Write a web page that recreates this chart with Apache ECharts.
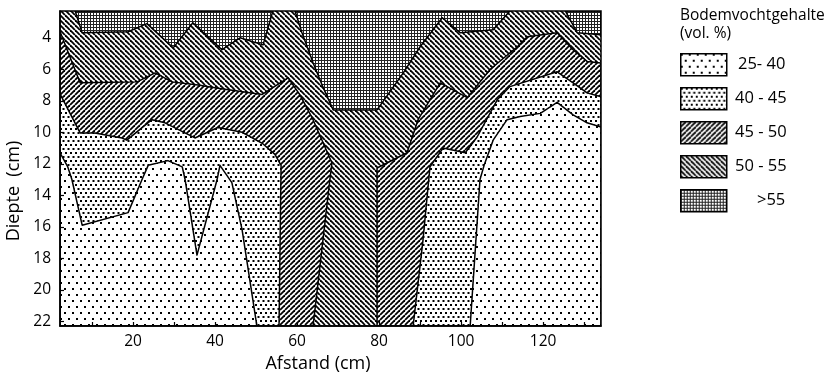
<!DOCTYPE html>
<html><head><meta charset="utf-8">
<script src="https://cdn.jsdelivr.net/npm/echarts@6/dist/echarts.min.js"></script>
<style>html,body{margin:0;padding:0;background:#fff}#c{width:828px;height:378px}</style>
</head><body><div id="c"></div>
<script>
// ---- axis extents and ticks ----
const X_EXTENT = [2.2, 134.1];
const Y_EXTENT = [2.3, 22.3];
const xTickLabels = [20, 40, 60, 80, 100, 120];
const xTicks = [10, 20, 30, 40, 50, 60, 70, 80, 90, 100, 110, 120, 130];
const yTickLabels = [4, 6, 8, 10, 12, 14, 16, 18, 20, 22];
const classLabels = ['25- 40', '40 - 45', '45 - 50', '50 - 55', '>55'];

// ---- contour boundaries [afstand (cm), diepte (cm)] ----
// >55 | 50-55
const b1Left = [[5.9,2.3],[7.6,3.68],[18.8,3.62],[23.4,3.1],[29.8,4.64],[34.6,3.05],[41.7,4.76],[46.1,4.0],[51.7,4.45],[54.1,2.3]];
const b1Center = [[59.5,2.3],[61.2,3.68],[63.9,5.59],[66.3,7.12],[68.8,8.58],[79.5,8.58],[85.9,6.23],[90.0,4.57],[95.4,2.73],[99.8,3.68],[107.8,3.49],[111.9,2.3]];
const b1Right = [[125.4,2.3],[128.3,3.68],[134.1,3.81],[134.1,2.3]];
// 50-55 | 45-50
const b2Left = [[2.2,3.6],[7.1,6.86],[21.0,6.8],[25.4,6.23],[29.5,6.8],[35.9,7.0],[40.7,7.2],[51.5,7.6],[57.8,6.54],[60.7,7.63],[63.9,9.2],[68.5,11.95],[68.0,13.0],[63.9,22.3]];
const b2Right = [[79.5,22.3],[79.5,12.27],[86.8,11.3],[89.5,9.2],[94.9,6.86],[101.5,7.8],[107.1,6.0],[113.7,4.57],[116.1,3.94],[123.4,3.68],[127.3,4.76],[130.7,5.5],[134.1,5.6]];
// 45-50 | 40-45
const b3Left = [[2.2,7.56],[7.1,10.04],[10.7,10.04],[17.3,10.36],[18.5,10.5],[24.6,9.2],[27.8,9.4],[35.1,10.36],[40.7,9.7],[46.6,10.0],[51.5,10.7],[54.6,11.4],[56.1,12.1],[55.6,22.3]];
const b3Right = [[88.3,22.3],[90.7,16.85],[92.4,12.2],[95.6,11.0],[101.0,11.3],[103.9,10.3],[108.8,7.94],[111.9,7.1],[123.4,6.16],[127.3,6.86],[130.7,7.5],[134.1,7.75]];
// 40-45 | 25-40
const b4Left = [[2.2,11.3],[4.1,12.2],[5.1,13.0],[7.6,15.9],[18.8,15.1],[22.2,13.0],[23.7,12.1],[28.5,11.8],[32.0,12.2],[32.7,13.0],[35.6,17.8],[40.5,13.0],[41.2,12.1],[44.1,13.2],[46.6,16.2],[50.2,22.3]];
const b4Right = [[102.2,22.3],[104.6,13.0],[105.6,12.1],[107.8,10.5],[111.2,9.2],[114.4,9.0],[119.3,8.8],[123.4,8.1],[127.3,8.9],[130.7,9.4],[134.1,9.66]];

// ---- patterns ----
function tile(w, h, draw) {
  const c = document.createElement('canvas');
  c.width = w; c.height = h;
  const g = c.getContext('2d');
  g.fillStyle = '#fff'; g.fillRect(0, 0, w, h);
  g.fillStyle = '#000'; g.strokeStyle = '#000';
  draw(g, w, h);
  return { image: c, repeat: 'repeat' };
}
const patSparse = tile(8, 12, g => { g.fillRect(0, 0, 2, 2); g.fillRect(4, 6, 2, 2); });
const patDense = tile(5, 8, g => { g.fillRect(0, 0, 2, 2); g.fillRect(2.5, 4, 2, 2); });
const patUp = tile(5, 5, (g, w, h) => { g.lineWidth = 1.8; for (let k = -1; k <= 1; k++) { g.beginPath(); g.moveTo(k*w, h); g.lineTo(k*w + w, 0); g.stroke(); } });
const patDown = tile(5, 5, (g, w, h) => { g.lineWidth = 1.8; for (let k = -1; k <= 1; k++) { g.beginPath(); g.moveTo(k*w, 0); g.lineTo(k*w + w, h); g.stroke(); } });
const patGrid = tile(3, 3, g => { g.fillStyle = '#222'; g.fillRect(0, 0, 1, 3); g.fillRect(0, 0, 3, 1); });
const classPatterns = [patSparse, patDense, patUp, patDown, patGrid];

const X0 = X_EXTENT[0], X1 = X_EXTENT[1], Y0 = Y_EXTENT[0], Y1 = Y_EXTENT[1];
function regionSeries(points, fill, stroke) {
  return {
    type: 'custom', clip: true, silent: true,
    data: [[(X0 + X1) / 2, (Y0 + Y1) / 2]],
    renderItem: (params, api) => ({
      type: 'polygon',
      shape: { points: points.map(p => api.coord(p)) },
      style: { fill: fill, stroke: stroke ? '#000' : null, lineWidth: 1.5, lineJoin: 'round' }
    })
  };
}

const series = [
  regionSeries([[X0,Y0],[X1,Y0],[X1,Y1],[X0,Y1]], classPatterns[3], false),
  regionSeries(b2Left.concat([[X0,Y1]]), classPatterns[2], true),
  regionSeries(b2Right.concat([[X1,Y1]]), classPatterns[2], true),
  regionSeries(b3Left.concat([[X0,Y1]]), classPatterns[1], true),
  regionSeries(b3Right.concat([[X1,Y1]]), classPatterns[1], true),
  regionSeries(b4Left.concat([[X0,Y1]]), classPatterns[0], true),
  regionSeries(b4Right.concat([[X1,Y1]]), classPatterns[0], true),
  regionSeries(b1Left, classPatterns[4], true),
  regionSeries(b1Center, classPatterns[4], true),
  regionSeries(b1Right, classPatterns[4], true)
];

const FONT = 'Open Sans';
const legendItems = [];
classLabels.forEach((lab, i) => {
  legendItems.push({ type: 'rect', left: 680, top: 53 + i * 34, shape: { width: 46, height: 22 },
    style: { fill: classPatterns[i], stroke: '#000', lineWidth: 1.5 }, z: 10 });
  legendItems.push({ type: 'text', x: i === 4 ? 757 : (i === 0 ? 738 : 735), y: 64 + i * 34,
    style: { text: lab, fontFamily: FONT, fontSize: 16.5, fill: '#000', verticalAlign: 'middle', align: 'left' }, z: 10 });
});

const chart = echarts.init(document.getElementById('c'), null, { renderer: 'canvas' });
chart.setOption({
  animation: false,
  backgroundColor: '#fff',
  grid: { left: 60, right: 227, top: 11, bottom: 52, show: true, borderColor: '#000', borderWidth: 1.5, backgroundColor: 'transparent', z: 5 },
  xAxis: {
    type: 'value', min: X0, max: X1,
    axisLine: { show: true, onZero: false, lineStyle: { color: '#000', width: 1.5 } },
    axisTick: { show: true, inside: true, length: 4, customValues: xTicks, lineStyle: { color: '#000', width: 1.2 } },
    axisLabel: { customValues: xTickLabels, color: '#000', fontFamily: FONT, fontSize: 15.5, margin: 8 },
    splitLine: { show: false }, z: 6
  },
  yAxis: {
    type: 'value', inverse: true, min: Y0, max: Y1,
    axisLine: { show: true, onZero: false, lineStyle: { color: '#000', width: 1.5 } },
    axisTick: { show: true, inside: true, length: 4, customValues: yTickLabels, lineStyle: { color: '#000', width: 1.2 } },
    axisLabel: { customValues: yTickLabels, color: '#000', fontFamily: FONT, fontSize: 15.5, margin: 9 },
    splitLine: { show: false }, z: 6
  },
  graphic: [
    { type: 'text', x: 14, y: 191, rotation: Math.PI / 2,
      style: { text: 'Diepte  (cm)', fontFamily: FONT, fontSize: 18, fill: '#000', align: 'center', verticalAlign: 'middle' } },
    { type: 'text', x: 318, y: 364,
      style: { text: 'Afstand (cm)', fontFamily: FONT, fontSize: 18, fill: '#000', align: 'center', verticalAlign: 'middle' } },
    { type: 'text', x: 680, y: 16,
      style: { text: 'Bodemvochtgehalte', fontFamily: FONT, fontSize: 15.5, fill: '#000', align: 'left', verticalAlign: 'middle' } },
    { type: 'text', x: 680, y: 34,
      style: { text: '(vol. %)', fontFamily: FONT, fontSize: 15.5, fill: '#000', align: 'left', verticalAlign: 'middle' } }
  ].concat(legendItems),
  series: series
});
</script></body></html>
